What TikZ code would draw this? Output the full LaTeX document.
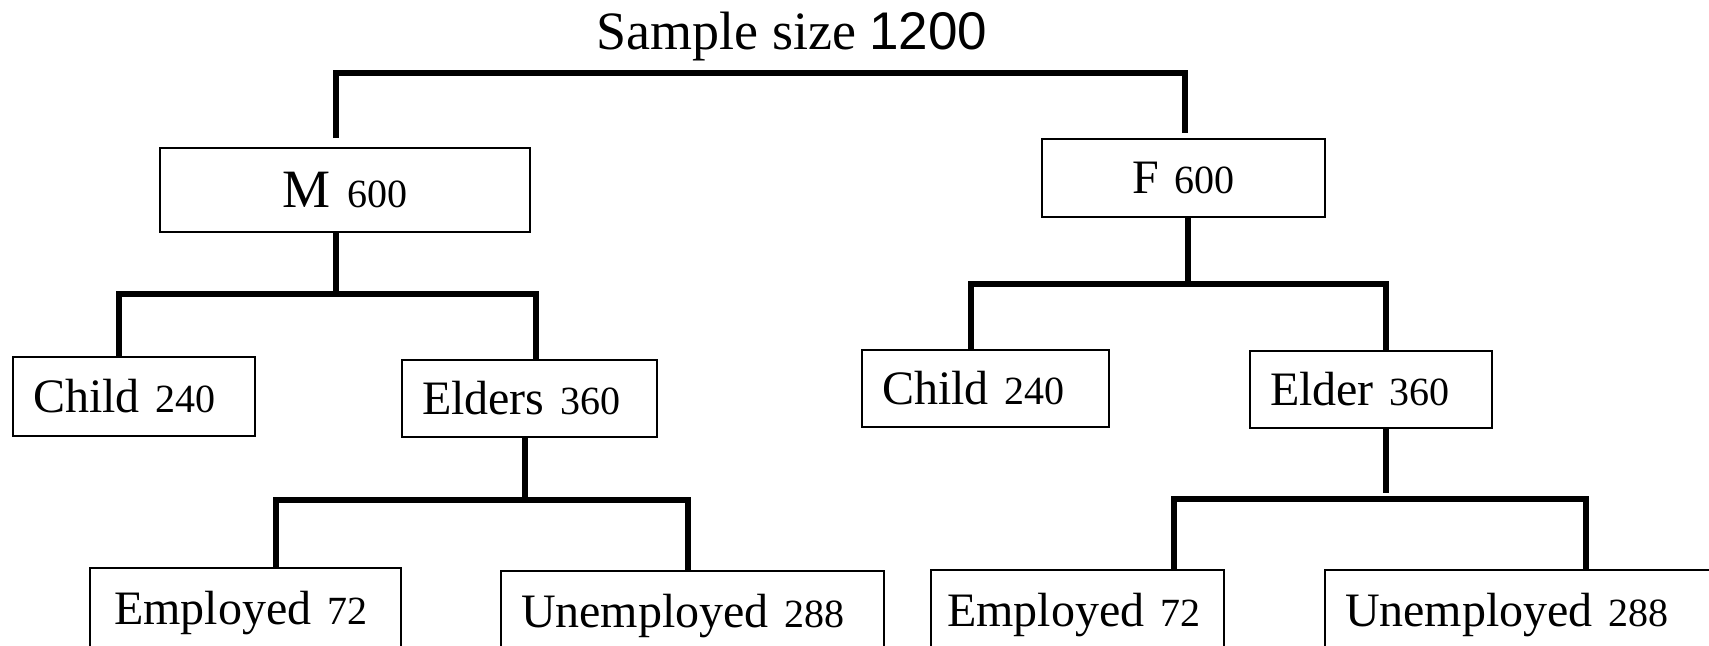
\documentclass[tikz,border=0pt]{standalone}
\usepackage{fontspec}
\setmainfont{Liberation Serif}
\setsansfont{Liberation Sans}
\usepackage{tikz}
\usetikzlibrary{positioning}
\newcommand{\popn}[1]{{\fontsize{20}{24}\selectfont #1}}
\tikzset{
  box/.style={rectangle, draw, line width=1pt, anchor=north west,
              inner xsep=10pt, inner ysep=0pt, align=left,
              font=\fontsize{24}{28}\selectfont},
  leafbox/.style={box, text height=28pt, text depth=20pt},
  link/.style={line width=2.8pt},
  ttl/.style={font=\fontsize{27}{30}\selectfont, anchor=base, inner sep=0pt},
}

\begin{document}
\begin{tikzpicture}[x=0.5pt, y=-0.5pt]
  \useasboundingbox (0,0) rectangle (1709,645);
  \clip (0,0) rectangle (1709,645);

  % ── Nodes ──────────────────────────────────────────────────────────────────
  \node[ttl] at (792,49) (title) {Sample size {\sffamily\fontsize{26.5}{30}\selectfont 1200}};

  \node[box, align=center, text width=165pt, minimum height=42pt]
        at (159,147) (m) {{\fontsize{27}{30}\selectfont M} \popn{600}};
  \node[box, align=center, text width=121.5pt, minimum height=39pt]
        at (1041,138) (f) {F \popn{600}};

  \node[box, text width=101pt,   minimum height=39.5pt] at (12,356)   (childM) {Child \popn{240}};
  \node[box, text width=107.5pt, minimum height=38.5pt] at (401,359)  (eldM)   {Elders \popn{360}};
  \node[box, text width=103.5pt, minimum height=38.5pt] at (861,349)  (childF) {Child \popn{240}};
  \node[box, text width=101pt,   minimum height=38.5pt] at (1249,350) (eldF)   {Elder \popn{360}};

  \node[leafbox, inner xsep=12pt, text width=131.5pt] at (89,567)   (empM)   {Employed \popn{72}};
  \node[leafbox, text width=171.5pt]                  at (500,570)  (unempM) {Unemployed \popn{288}};
  \node[leafbox, inner xsep=8pt, text width=130.5pt]  at (930,569)  (empF)   {Employed \popn{72}};
  \node[leafbox, text width=180pt]                    at (1324,569) (unempF) {Unemployed \popn{288}};

  % ── Junctions ──────────────────────────────────────────────────────────────
  \coordinate (topL)   at (336,73);
  \coordinate (topR)   at (1185,73);
  \coordinate (mJ)     at (336,294);
  \coordinate (mbarL)  at (119,294);
  \coordinate (mbarR)  at (536,294);
  \coordinate (eJ)     at (525,500);
  \coordinate (ebarL)  at (276,500);
  \coordinate (ebarR)  at (688,500);
  \coordinate (fJ)     at (1188,284);
  \coordinate (fbarL)  at (971,284);
  \coordinate (fbarR)  at (1386,284);
  \coordinate (efJ)    at (1386,499);
  \coordinate (efbarL) at (1174,499);
  \coordinate (efbarR) at (1586,499);

  % ── Connectors ─────────────────────────────────────────────────────────────
  \draw[link, shorten <=4.5pt, shorten >=2.5pt]
        (m.north -| topL) -- (topL) -- (topR) -- (f.north -| topR);

  \draw[link] (m.south -| mJ) -- (mJ);
  \draw[link] (childM.north -| mbarL) -- (mbarL) -- (mbarR) -- (eldM.north -| mbarR);

  \draw[link] (eldM.south -| eJ) -- (eJ);
  \draw[link] (empM.north -| ebarL) -- (ebarL) -- (ebarR) -- (unempM.north -| ebarR);

  \draw[link] (f.south -| fJ) -- (fJ);
  \draw[link] (childF.north -| fbarL) -- (fbarL) -- (fbarR) -- (eldF.north -| fbarR);

  \draw[link, shorten >=3pt] (eldF.south -| efJ) -- (efJ);
  \draw[link] (empF.north -| efbarL) -- (efbarL) -- (efbarR) -- (unempF.north -| efbarR);
\end{tikzpicture}
\end{document}
